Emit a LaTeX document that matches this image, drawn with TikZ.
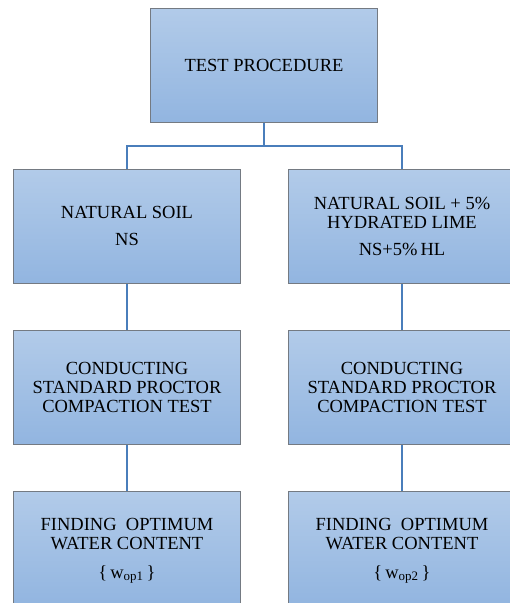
\documentclass[tikz,border=0pt]{standalone}
\usepackage{fontspec}
\setmainfont{Liberation Serif}
\definecolor{boxtop}{HTML}{B2CBE9}
\definecolor{boxbot}{HTML}{92B5E0}
\definecolor{boxedge}{HTML}{747A82}
\definecolor{linkblue}{HTML}{4A7EBB}
\tikzset{
  stage/.style={draw=boxedge, line width=1pt, top color=boxtop, bottom color=boxbot,
    minimum width=227pt, minimum height=114pt, inner sep=0pt, align=center,
    font=\fontsize{18.5}{19}\selectfont},
  link/.style={draw=linkblue, line width=2pt}
}
\begin{document}
\begin{tikzpicture}[x=1pt,y=-1pt]
    \clip (0,0) rectangle (510,603);
    \node[stage] (proc) at (264,65) {TEST PROCEDURE};
    \node[stage] (ns) at (127,226) {NATURAL SOIL\\[8pt]NS};
    \node[stage] (nshl) at (402,226) {NATURAL SOIL + 5\%\\HYDRATED LIME\\[8pt]NS+5\%\,HL};
    \node[stage] (spcl) at (127,387) {CONDUCTING\\STANDARD PROCTOR\\COMPACTION TEST};
    \node[stage] (spcr) at (402,387) {CONDUCTING\\STANDARD PROCTOR\\COMPACTION TEST};
    \node[stage] (owcl) at (127,548) {FINDING~~OPTIMUM\\WATER CONTENT\\[10pt]\smash{\{\,w\textsubscript{op1}\,\}}};
    \node[stage] (owcr) at (402,548) {FINDING~~OPTIMUM\\WATER CONTENT\\[10pt]\smash{\{\,w\textsubscript{op2}\,\}}};
    \draw[link] (proc.south) -- ++(0,23) -| (ns.north);
    \draw[link] (proc.south) -- ++(0,23) -| (nshl.north);
    \draw[link] (ns) -- (spcl);
    \draw[link] (nshl) -- (spcr);
    \draw[link] (spcl) -- (owcl);
    \draw[link] (spcr) -- (owcr);
    \end{tikzpicture}
\end{document}
